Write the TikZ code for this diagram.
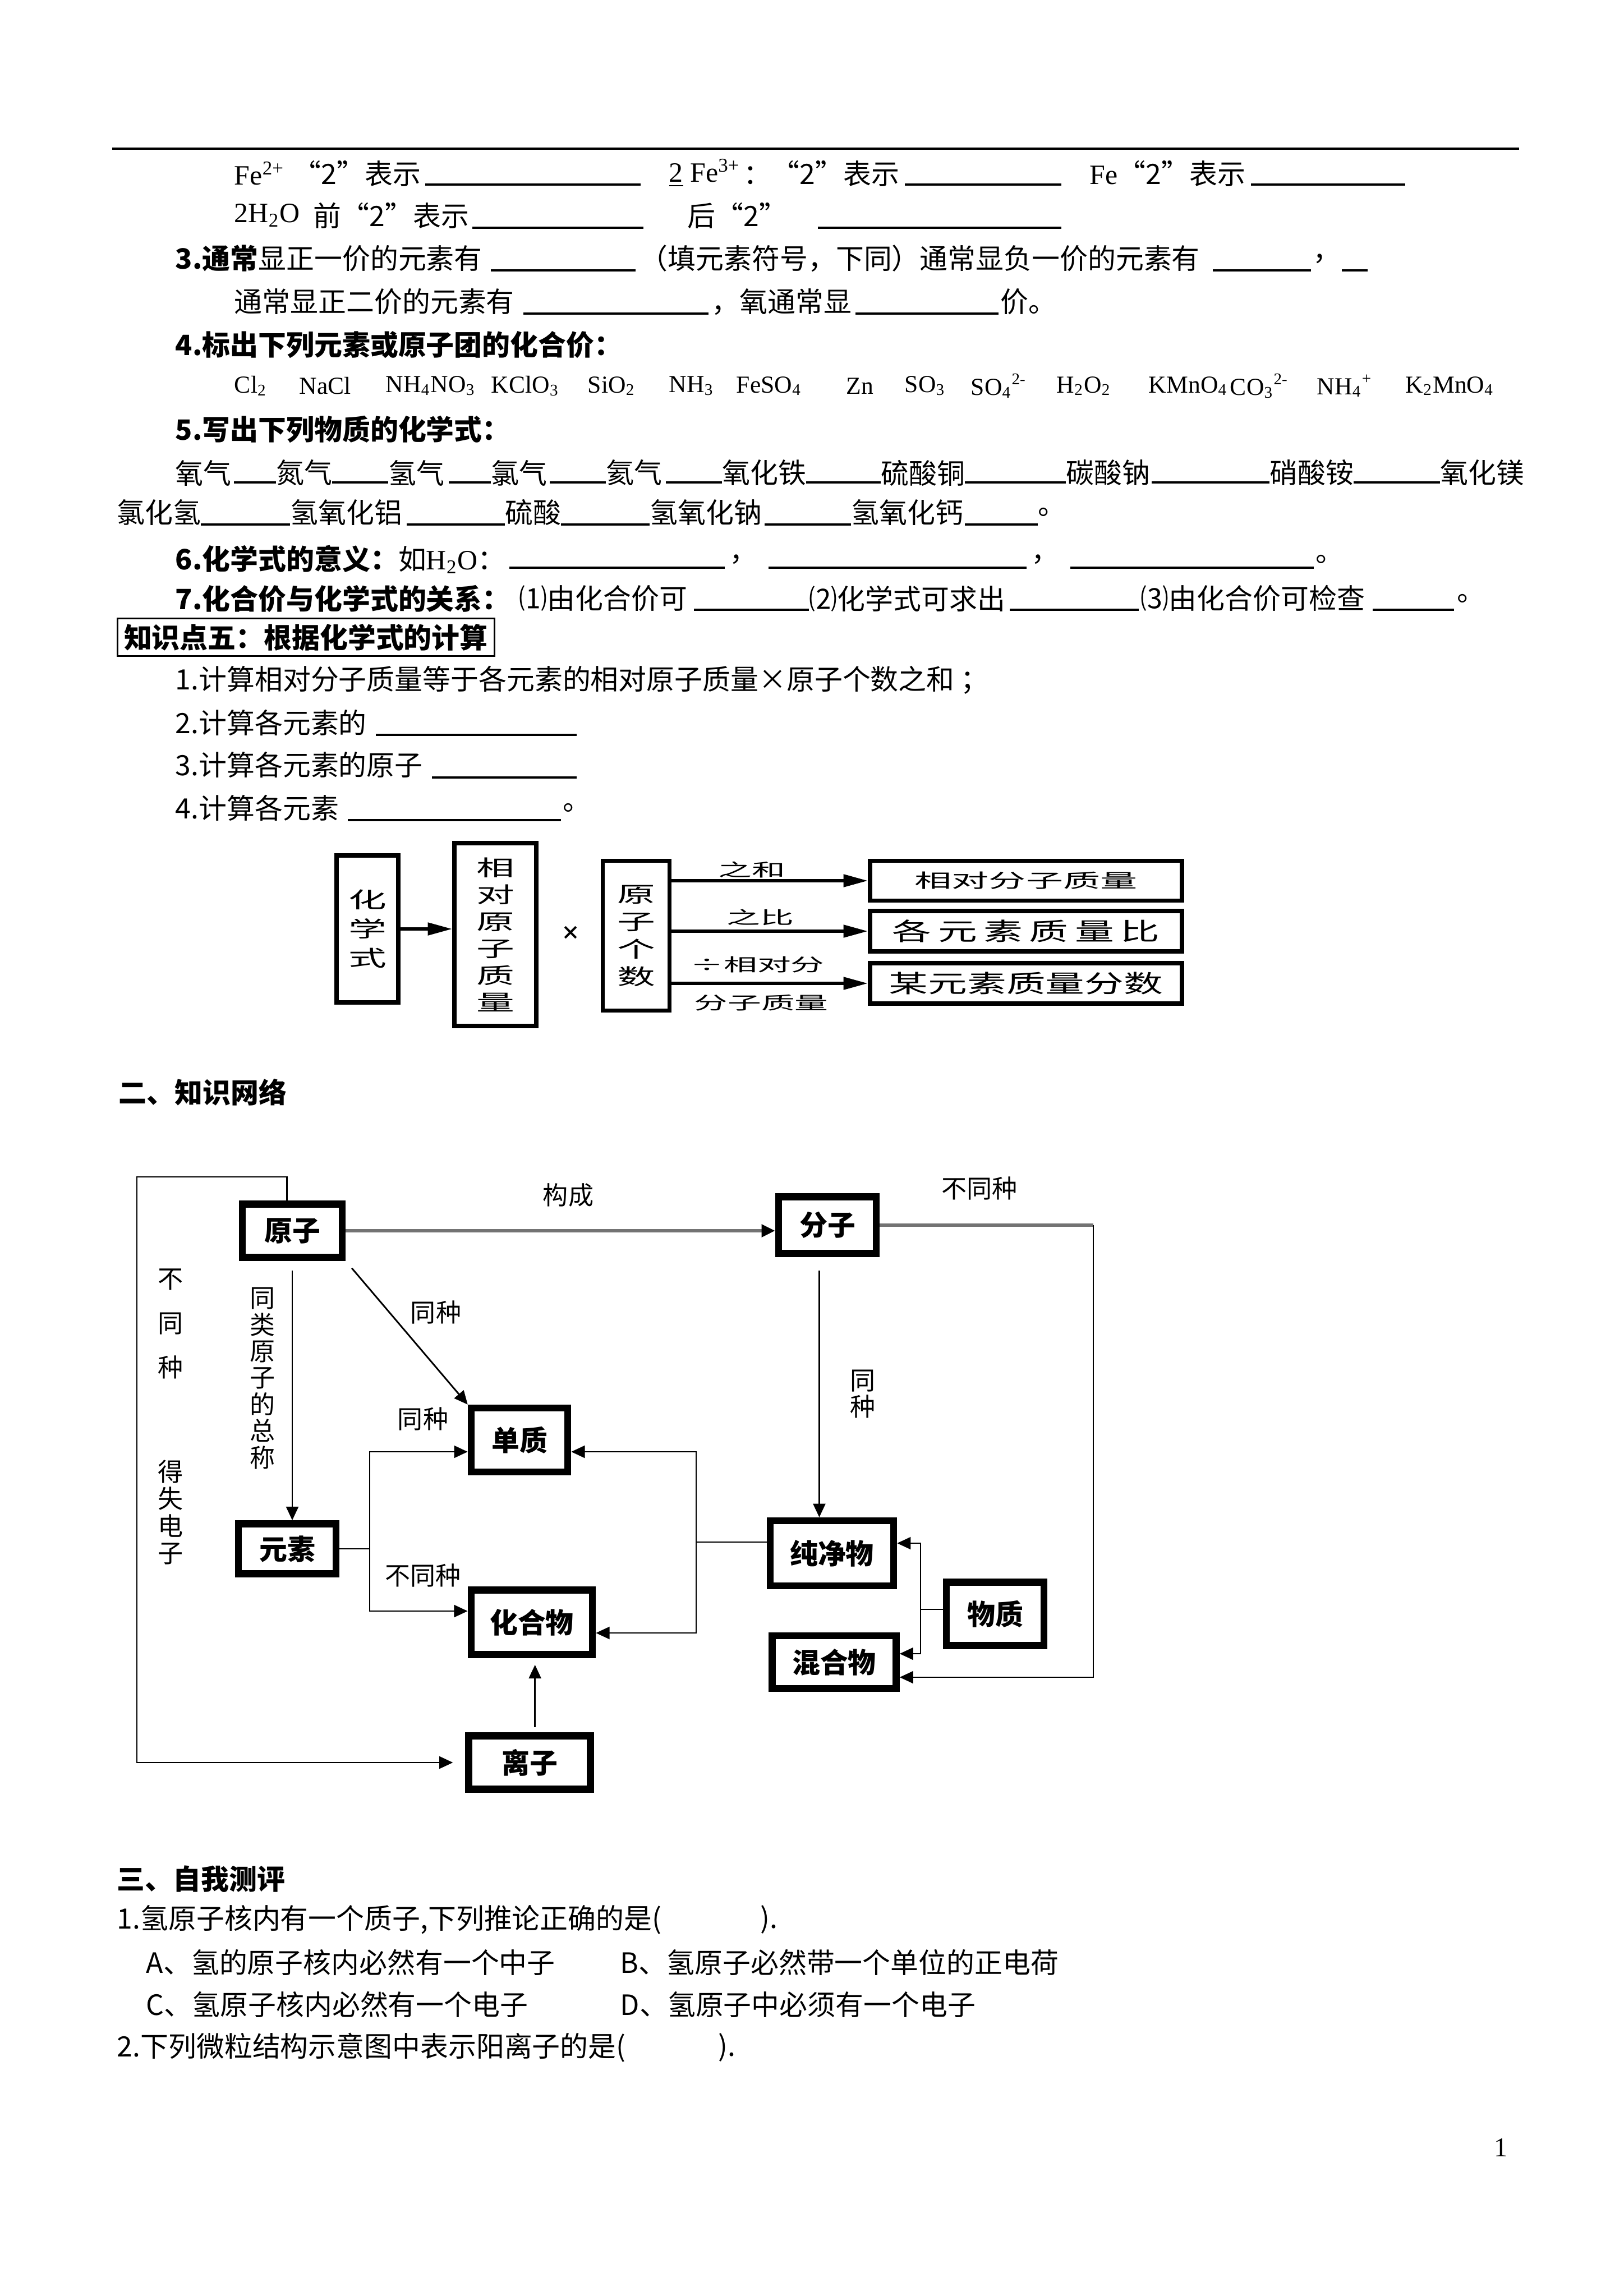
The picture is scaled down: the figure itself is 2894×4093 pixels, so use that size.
\documentclass[tikz,border=0pt]{standalone}
\usepackage{fontspec}
\usepackage{graphicx}
\setmainfont{Noto Sans CJK SC}
\newfontfamily\lat{Liberation Serif}
\usetikzlibrary{arrows.meta}

\newcommand\kuan[2][1.75]{\scalebox{#1}[1]{#2}}
\newcommand\qt[1]{\makebox[1em][r]{“}#1\makebox[1em][l]{”}}

\tikzset{
  txt/.style={anchor=west, inner sep=0pt, font=\fontsize{10.3pt}{13pt}\selectfont},
  hd/.style={txt, font=\fontsize{10.3pt}{13pt}\selectfont\bfseries},
  hx/.style={txt, font=\lat\fontsize{9pt}{11pt}\selectfont},
  blk/.style={line width=0.7pt},
  dbox/.style={draw, line width=1.6pt, inner sep=0pt, align=center},
  dlab/.style={inner sep=0pt, font=\fontsize{6.5pt}{8pt}\selectfont},
  darr/.style={line width=1.2pt, -{Triangle[length=9pt,width=4.5pt]}},
  kbox/.style={draw, line width=2.6pt, inner sep=0pt, font=\fontsize{10.3pt}{13pt}\selectfont\bfseries},
  lab/.style={inner sep=0pt, align=center, font=\fontsize{9.3pt}{9.8pt}\selectfont},
  line/.style={line width=0.6pt},
  gline/.style={line width=1.3pt, black!55},
  arr/.style={line, -{Triangle[length=5pt,width=4.5pt]}},
  barr/.style={line, {Triangle[length=5pt,width=4.5pt]}-{Triangle[length=5pt,width=4.5pt]}}
}

\begin{document}
\begin{tikzpicture}[x=0.20645pt, y=-0.20645pt]
\fill[white] (0,0) rectangle (2894,4093);
\useasboundingbox (0,0) rectangle (2894,4093);

% top rule
\draw[line width=0.8pt] (200,265) -- (2708,265);

% Fe lines
\node[txt] (a1) at (417,309) {\lat Fe\textsuperscript{2+}};
\node[txt] (a2) at (522,309) {\qt{2}表示};
\node[txt] (a3) at (1192,309) {\lat\underline{2} Fe\textsuperscript{3+}};
\node[txt] (a4) at (1325,309) {：\qt{2}表示};
\node[txt] (a5) at (1942,309) {{\lat Fe}\qt{2}表示};
\foreach \a/\b in {758/1142,1613/1892,2230/2505} \draw[blk] (\a,329) -- (\b,329);

\node[txt] (b1) at (417,384) {\lat 2H\textsubscript{2}O};
\node[txt] (b2) at (558,384) {前\qt{2}表示};
\node[txt] (b3) at (1225,384) {后\qt{2}};
\foreach \a/\b in {842/1147,1458/1892} \draw[blk] (\a,406) -- (\b,406);

% 3.
\node[txt] (c1) at (312,461) {{\bfseries 3.通常}显正一价的元素有};
\node[txt] (c2) at (1140,461) {（填元素符号，下同）通常显负一价的元素有};
\node[txt] (c3) at (2340,461) {，};
\foreach \a/\b in {875/1133,2162/2337,2392/2438} \draw[blk] (\a,482) -- (\b,482);

\node[txt] (d1) at (417,538) {通常显正二价的元素有};
\node[txt] (d2) at (1268,538) {，氧通常显};
\node[txt] (d3) at (1783,538) {价。};
\foreach \a/\b in {933/1263,1525/1780} \draw[blk] (\a,559) -- (\b,559);

% 4.
\node[hd] (e1) at (312,615) {4.标出下列元素或原子团的化合价：};
\foreach \x/\f [count=\i] in {417/Cl\textsubscript{2},533/NaCl,687/NH\textsubscript{4}NO\textsubscript{3},
  875/KClO\textsubscript{3},1047/SiO\textsubscript{2},1192/NH\textsubscript{3},1312/FeSO\textsubscript{4},
  1508/Zn,1612/SO\textsubscript{3},1730/SO\textsubscript{4}\textsuperscript{2-},1883/H\textsubscript{2}O\textsubscript{2},
  2047/KMnO\textsubscript{4},2192/CO\textsubscript{3}\textsuperscript{2-},2347/NH\textsubscript{4}\textsuperscript{+},
  2505/K\textsubscript{2}MnO\textsubscript{4}}
  \node[hx] (f\i) at (\x,688) {\f};

% 5.
\node[hd] (g1) at (312,765) {5.写出下列物质的化学式：};
\foreach \x/\w [count=\i] in {312/氧气,492/氮气,692/氢气,875/氯气,1080/氦气,1287/氧化铁,
  1570/硫酸铜,1900/碳酸钠,2263/硝酸铵,2567/氧化镁}
  \node[txt] (h\i) at (\x,843) {\w};
\foreach \a/\b in {417/492,592/692,800/875,980/1080,1187/1287,1437/1570,1720/1900,2053/2263,2413/2567}
  \draw[blk] (\a,860) -- (\b,860);
\foreach \x/\w [count=\i] in {208/氯化氢,517/氢氧化铝,900/硫酸,1158/氢氧化钠,1517/氢氧化钙,1850/。}
  \node[txt] (i\i) at (\x,913) {\w};
\foreach \a/\b in {358/517,725/900,1000/1158,1363/1517,1720/1850} \draw[blk] (\a,935) -- (\b,935);

% 6. 7.
\node[txt] (j1) at (312,997) {\textbf{6.化学式的意义：}如{\lat H\textsubscript{2}O}：};
\node[txt] (j2) at (1300,997) {，};
\node[txt] (j3) at (1838,997) {，};
\node[txt] (j4) at (2345,997) {。};
\foreach \a/\b in {908/1292,1370/1830,1908/2342} \draw[blk] (\a,1012) -- (\b,1012);

\node[hd] (k1) at (312,1067) {7.化合价与化学式的关系：};
\node[txt] (k2) at (925,1067) {⑴由化合价可};
\node[txt] (k3) at (1442,1067) {⑵化学式可求出};
\node[txt] (k4) at (2033,1067) {⑶由化合价可检查};
\node[txt] (k5) at (2597,1067) {。};
\foreach \a/\b in {1237/1442,1800/2030,2447/2592} \draw[blk] (\a,1087) -- (\b,1087);

% 知识点五
\node[hd, draw, line width=0.6pt, inner xsep=2.4pt, minimum height=14pt] (kp5) at (208,1136) {知识点五：根据化学式的计算};
\node[txt] (l1) at (312,1212) {1.计算相对分子质量等于各元素的相对原子质量×原子个数之和 ；};
\node[txt] (m1) at (312,1288) {2.计算各元素的};
\draw[blk] (670,1310) -- (1028,1310);
\node[txt] (n1) at (312,1363) {3.计算各元素的原子};
\draw[blk] (770,1386) -- (1028,1386);
\node[txt] (o1) at (312,1440) {4.计算各元素};
\draw[blk] (620,1462) -- (1000,1462);
\node[txt] (o2) at (1003,1440) {。};

% calculation chart
\node[dbox, minimum width=22.7pt, minimum height=54.1pt, font=\fontsize{8pt}{10.7pt}\selectfont] (hxs) at (655,1656)
  {\kuan{化}\\\kuan{学}\\\kuan{式}};
\node[dbox, minimum width=30.1pt, minimum height=67.3pt, font=\fontsize{8pt}{9.9pt}\selectfont] (xdyz) at (883,1666)
  {\kuan{相}\\\kuan{对}\\\kuan{原}\\\kuan{子}\\\kuan{质}\\\kuan{量}};
\node[inner sep=0pt, font=\fontsize{7pt}{7pt}\selectfont\bfseries] (cheng) at (1017,1663) {×};
\node[dbox, minimum width=24.6pt, minimum height=55.1pt, font=\fontsize{8pt}{10.1pt}\selectfont] (yzgs) at (1134,1668)
  {\kuan{原}\\\kuan{子}\\\kuan{个}\\\kuan{数}};
\node[dbox, minimum width=114.8pt, minimum height=14.7pt, font=\fontsize{7pt}{8pt}\selectfont] (xdfz) at (1829,1570)
  {\kuan[1.95]{相对分子质量}};
\node[dbox, minimum width=114.8pt, minimum height=14.9pt, font=\fontsize{9pt}{10pt}\selectfont] (zlb) at (1829,1660)
  {\kuan[1.6]{各\,元\,素\,质\,量\,比}};
\node[dbox, minimum width=114.8pt, minimum height=14.9pt, font=\fontsize{9pt}{10pt}\selectfont] (zlfs) at (1829,1753)
  {\kuan[1.6]{某元素质量分数}};
\draw[darr] (hxs.east) -- (hxs.east -| xdyz.west);
\draw[darr] (yzgs.east |- xdfz.west) -- (xdfz.west);
\draw[darr] (yzgs.east |- zlb.west) -- (zlb.west);
\draw[darr] (yzgs.east |- zlfs.west) -- (zlfs.west);
\node[dlab] (zh) at (1340,1550) {\kuan[1.9]{之和}};
\node[dlab] (zb) at (1355,1635) {\kuan[1.9]{之比}};
\node[dlab] (cxd) at (1350,1720) {\kuan[1.9]{÷相对分}};
\node[dlab] (fzzl) at (1357,1788) {\kuan[1.9]{分子质量}};

% 二、知识网络
\node[hd] (zswl) at (211,1947) {二、知识网络};
\node[kbox, minimum width=36.7pt, minimum height=19.6pt] (yz) at (521,2194) {原子};
\node[kbox, minimum width=35.9pt, minimum height=20.9pt] (fz) at (1475,2184) {分子};
\node[kbox, minimum width=35.5pt, minimum height=23.5pt] (dz) at (926,2567) {单质};
\node[kbox, minimum width=35.9pt, minimum height=18.4pt] (ys) at (512,2761) {元素};
\node[kbox, minimum width=44.6pt, minimum height=23.7pt] (hhw) at (948,2892) {化合物};
\node[kbox, minimum width=45.4pt, minimum height=23.9pt] (cjw) at (1483,2769) {纯净物};
\node[kbox, minimum width=35.9pt, minimum height=23.3pt] (wz) at (1774,2877) {物质};
\node[kbox, minimum width=45.6pt, minimum height=19.4pt] (hunhw) at (1487,2963) {混合物};
\node[kbox, minimum width=44.8pt, minimum height=19.6pt] (lz) at (944,3142) {离子};

\coordinate (lp) at (244,2098);
\draw[arr, shorten >=4.5pt] ([xshift=-2pt]yz.north) |- (lp) |- (lz.west);
\draw[gline, -{Triangle[length=5pt,width=4.5pt,color=black]}] (yz.east) -- (yz.east -| fz.west);
\coordinate (rc) at (1949,2990);
\draw[gline] (fz.east) -- (fz.east -| rc);
\draw[arr] (fz.east -| rc) -- (rc) -- (rc -| hunhw.east);
\draw[arr, shorten <=3.5pt] (yz.south) -- (yz.south |- ys.north);
\draw[arr, shorten <=3.5pt] (yz.south east) -- (dz.north west);
\draw[arr, shorten <=5pt] ([xshift=-3pt]fz.south) -- ([xshift=-3pt]fz.south |- cjw.north);
\draw[arr, shorten <=2pt, shorten >=2.5pt] ([xshift=2pt]lz.north) -- ([xshift=2pt]lz.north |- hhw.south);

\coordinate (p1) at (659,2588);
\coordinate (p2) at (659,2872);
\draw[barr] (p1 -| dz.west) -- (p1) -- (p2) -- (p2 -| hhw.west);
\draw[line] (ys.east) -- (ys.east -| p1);
\coordinate (q1) at (1241,2588);
\coordinate (q2) at (1241,2911);
\coordinate (q0) at (1241,2749);
\draw[barr] (q1 -| dz.east) -- (q1) -- (q2) -- (q2 -| hhw.east);
\draw[line] (q0 -| cjw.west) -- (q0);
\coordinate (r1) at (1641,2751);
\coordinate (r2) at (1641,2948);
\coordinate (r0) at (1641,2869);
\draw[barr] (r1 -| cjw.east) -- (r1) -- (r2) -- (r2 -| hunhw.east);
\draw[line] (r0 -| wz.west) -- (r0);

\node[lab] (gc) at (1013,2131) {构成};
\node[lab] (btz) at (1746,2118) {不同种};
\node[lab] (tz1) at (777,2339) {同种};
\node[lab] (tz2) at (754,2529) {同种};
\node[lab] (btz2) at (754,2808) {不同种};
\node[lab] (tlzc) at (468,2457) {同\\类\\原\\子\\的\\总\\称};
\node[lab, font=\fontsize{9.3pt}{16.3pt}\selectfont] (btz3) at (304,2360) {不\\同\\种};
\node[lab, font=\fontsize{9.3pt}{10pt}\selectfont] (dsdz) at (304,2696) {得\\失\\电\\子};
\node[lab] (tz3) at (1538,2485) {同\\种};

% 三、自我测评
\node[hd] (zwcp) at (208,3350) {三、自我测评};
\node[txt] (t1) at (208,3422) {1.氢原子核内有一个质子,下列推论正确的是(};
\node[txt] (t1b) at (1355,3422) {).};
\node[txt] (ta) at (260,3498) {A、氢的原子核内必然有一个中子};
\node[txt] (tb) at (1105,3498) {B、氢原子必然带一个单位的正电荷};
\node[txt] (tc) at (260,3573) {C、氢原子核内必然有一个电子};
\node[txt] (td) at (1105,3573) {D、氢原子中必须有一个电子};
\node[txt] (t2) at (208,3650) {2.下列微粒结构示意图中表示阳离子的是(};
\node[txt] (t2b) at (1280,3650) {).};

\node[inner sep=0pt, font=\lat\fontsize{10pt}{12pt}\selectfont] (ym) at (2676,3828) {1};
\end{tikzpicture}
\end{document}
